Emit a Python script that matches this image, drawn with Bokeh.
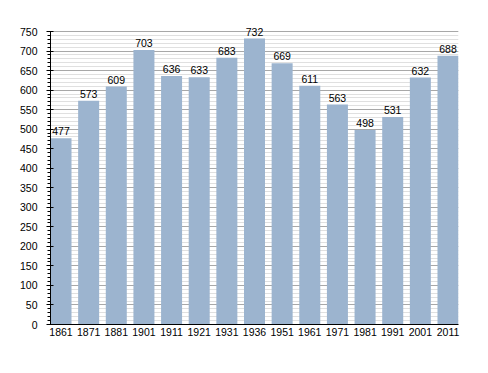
from bokeh.plotting import figure
from bokeh.models import ColumnDataSource, SingleIntervalTicker, FixedTicker, Range1d, LabelSet
from bokeh.embed import file_html
from bokeh.resources import INLINE
from bokeh.core.properties import value

years = ["1861", "1871", "1881", "1901", "1911", "1921", "1931", "1936",
         "1951", "1961", "1971", "1981", "1991", "2001", "2011"]
population = [477, 573, 609, 703, 636, 633, 683, 732, 669, 611, 563, 498, 531, 632, 688]

xpos = list(range(len(years)))
src = ColumnDataSource(dict(x=xpos, y=population, t=[str(v) for v in population]))

BAR_W = 0.76
p = figure(x_range=Range1d(-BAR_W / 2, len(years) - 1 + BAR_W / 2),
           y_range=Range1d(0, 791), output_backend="svg",
           toolbar_location=None, frame_width=408, frame_height=309,
           min_border_left=50, min_border_right=22, min_border_top=15,
           min_border_bottom=40, outline_line_color=None,
           background_fill_color="white", border_fill_color="white")

p.vbar(x="x", top="y", width=BAR_W, source=src, fill_color="#9cb4cf",
       line_color=None)

labels = LabelSet(x="x", y="y", text="t", source=src, text_align="center",
                  text_baseline="bottom", y_offset=3, text_font_size="10.5px",
                  text_font=value("Liberation Sans"), text_color="black")
p.add_layout(labels)

p.yaxis.bounds = (0, 750)
p.yaxis.ticker = SingleIntervalTicker(interval=50, num_minor_ticks=5)
p.yaxis.major_label_text_font = "Liberation Sans"
p.yaxis.major_label_text_font_size = "10.5px"
p.yaxis.major_label_text_color = "black"
p.yaxis.axis_line_color = "black"
p.yaxis.major_tick_line_color = "black"
p.yaxis.minor_tick_line_color = "black"
p.yaxis.major_tick_in = 3
p.yaxis.major_tick_out = 4
p.yaxis.minor_tick_in = 0
p.yaxis.minor_tick_out = 3
p.yaxis.major_label_standoff = 9

p.xaxis.ticker = FixedTicker(ticks=xpos)
p.xaxis.major_label_overrides = {i: y for i, y in zip(xpos, years)}
p.xaxis.major_label_text_font = "Liberation Sans"
p.xaxis.major_label_text_font_size = "10.5px"
p.xaxis.major_label_text_color = "black"
p.xaxis.axis_line_color = "black"
p.xaxis.major_tick_line_color = None
p.xaxis.minor_tick_line_color = None
p.xaxis.major_tick_in = 0
p.xaxis.major_tick_out = 0
p.xaxis.major_label_standoff = 3

p.xgrid.grid_line_color = None
p.ygrid.bounds = (0, 750)
p.ygrid.grid_line_color = "#a8a8a8"
p.ygrid.minor_grid_line_color = "#e0e0e0"
p.ygrid.level = "underlay"

open("out.html", "w").write(file_html(p, INLINE))
